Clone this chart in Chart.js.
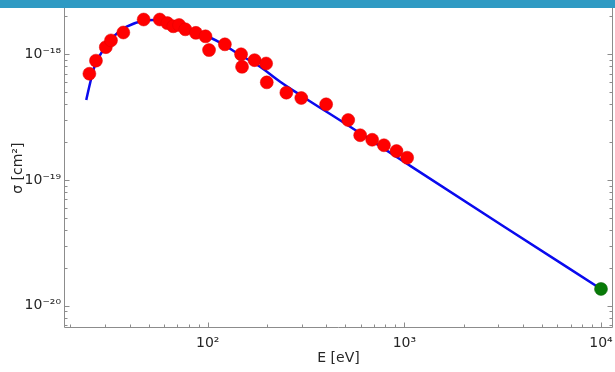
<!DOCTYPE html>
<html>
<head>
<meta charset="utf-8">
<script src="https://cdn.jsdelivr.net/npm/chart.js@4/dist/chart.umd.min.js"></script>
<style>
  body { margin: 0; background: #fff; }
  #wrap { position: relative; width: 615px; height: 372px; }
  #bar { position: absolute; left: 0; top: 0; width: 615px; height: 8px; background: #2f9ac3; }
</style>
</head>
<body>
<div id="wrap">
  <canvas id="crossSection" width="615" height="372"></canvas>
  <div id="bar"></div>
</div>
<script>
// measured cross sections (red)
const energy = [25.0, 27.0, 30.3, 32.2, 37.2, 47.2, 57.0, 62.3, 66.8, 71.5, 76.9, 87.0, 97.4, 101.5,
                122.2, 147.7, 149.4, 173.0, 198.1, 199.6, 251, 299, 400, 518, 596, 686, 787, 912, 1033];
const sigma = [7.0e-19, 8.9e-19, 1.14e-18, 1.29e-18, 1.49e-18, 1.89e-18, 1.89e-18, 1.77e-18, 1.67e-18,
               1.71e-18, 1.58e-18, 1.48e-18, 1.39e-18, 1.08e-18, 1.20e-18, 1.00e-18, 7.95e-19, 8.98e-19,
               8.45e-19, 5.98e-19, 4.95e-19, 4.49e-19, 4.0e-19, 3.0e-19, 2.27e-19, 2.09e-19, 1.89e-19,
               1.70e-19, 1.505e-19];

// extrapolated point (green)
const extraEnergy = [10000];
const extraSigma = [1.36e-20];

// fitted curve (blue)
const fitEnergy = [24.1, 25.2, 26.7, 29.4, 33.1, 38.7, 47.0, 52.9, 61.8, 72.3, 91.4, 115.5, 146,
                   184.5, 233.5, 295, 530, 1000, 3162, 10000];
const fitSigma = [4.33e-19, 5.88e-19, 8.22e-19, 1.08e-18, 1.38e-18, 1.66e-18, 1.85e-18, 1.875e-18,
                  1.81e-18, 1.68e-18, 1.47e-18, 1.24e-18, 9.87e-19, 7.97e-19, 6.05e-19, 4.75e-19,
                  2.65e-19, 1.39e-19, 4.33e-20, 1.36e-20];

// ticks
const xMajor = [100, 1000, 10000];
const xLabels = ['10²', '10³', '10⁴'];
const yMajor = [1e-20, 1e-19, 1e-18];
const yLabels = ['10⁻²⁰', '10⁻¹⁹', '10⁻¹⁸'];

const toPoints = (xs, ys) => xs.map((v, i) => ({ x: v, y: ys[i] }));

function minorTicks(lo, hi) {
    const out = [];
    for (let d = Math.floor(Math.log10(lo)); d <= Math.ceil(Math.log10(hi)); d++) {
        for (let m = 2; m <= 9; m++) {
            const v = m * Math.pow(10, d);
            if (v > lo && v < hi) out.push(v);
        }
    }
    return out;
}

// grey frame (top edge sits under the banner) with inward ticks
const frameTicks = {
    id: 'frameTicks',
    afterDraw(chart) {
        const { ctx, chartArea: a, scales: { x, y } } = chart;
        ctx.save();
        ctx.strokeStyle = '#8c8c8c';
        ctx.lineWidth = 1;
        const seg = (x1, y1, x2, y2) => { ctx.beginPath(); ctx.moveTo(x1, y1); ctx.lineTo(x2, y2); ctx.stroke(); };
        const l = Math.round(a.left) + 0.5, r = Math.round(a.right) - 0.5, b = Math.round(a.bottom) - 0.5;
        seg(l, 0, l, b);
        seg(l, b, r, b);
        seg(r, 0, r, b);
        const xt = (v, len) => {
            const p = Math.round(x.getPixelForValue(v)) + 0.5;
            seg(p, b, p, b - len);
        };
        const yt = (v, len) => {
            const p = Math.round(y.getPixelForValue(v)) + 0.5;
            seg(l, p, l + len, p);
            seg(r, p, r - len, p);
        };
        xMajor.forEach(v => xt(v, 5));
        minorTicks(x.min, x.max).forEach(v => xt(v, 3));
        yMajor.forEach(v => yt(v, 5));
        minorTicks(y.min, y.max).forEach(v => yt(v, 3));
        ctx.restore();
    }
};

const font = { family: 'DejaVu Sans', size: 14 };

new Chart(document.getElementById('crossSection').getContext('2d'), {
    type: 'scatter',
    data: {
        datasets: [
            {
                data: toPoints(energy, sigma),
                backgroundColor: '#ff0000',
                borderColor: '#e00000',
                borderWidth: 0.5,
                pointRadius: 6.5,
                order: 1
            },
            {
                data: toPoints(extraEnergy, extraSigma),
                backgroundColor: '#087a08',
                borderColor: '#066006',
                borderWidth: 0.5,
                pointRadius: 6.5,
                order: 0
            },
            {
                type: 'line',
                data: toPoints(fitEnergy, fitSigma),
                borderColor: '#0a0aee',
                borderWidth: 2.5,
                pointRadius: 0,
                fill: false,
                cubicInterpolationMode: 'monotone',
                order: 2
            }
        ]
    },
    options: {
        responsive: false,
        animation: false,
        devicePixelRatio: 1,
        layout: { autoPadding: false, padding: { left: 0, right: 2, top: 0, bottom: 0 } },
        plugins: { legend: { display: false }, tooltip: { enabled: false } },
        scales: {
            x: {
                type: 'logarithmic',
                min: 18.57,
                max: 11510,
                grid: { display: false, drawTicks: true, tickLength: 7 },
                border: { display: false },
                afterBuildTicks: s => { s.ticks = xMajor.map(v => ({ value: v })); },
                afterFit: s => { s.height = 44; },
                ticks: {
                    autoSkip: false,
                    maxRotation: 0,
                    padding: 0,
                    color: '#262626',
                    font: font,
                    callback: v => xLabels[xMajor.indexOf(v)]
                },
                title: {
                    display: true,
                    text: 'E [eV]',
                    color: '#262626',
                    font: font,
                    padding: { top: 0, bottom: 5 }
                }
            },
            y: {
                type: 'logarithmic',
                min: 6.65e-21,
                max: 2.317e-18,
                grid: { display: false, drawTicks: true, tickLength: 3 },
                border: { display: false },
                afterBuildTicks: s => { s.ticks = yMajor.map(v => ({ value: v })); },
                afterFit: s => { s.width = 64; },
                ticks: {
                    autoSkip: false,
                    padding: 0,
                    color: '#262626',
                    font: font,
                    callback: v => yLabels[yMajor.indexOf(v)]
                },
                title: {
                    display: true,
                    text: 'σ [cm²]',
                    color: '#262626',
                    font: font,
                    padding: { top: 10, bottom: 0 }
                }
            }
        }
    },
    plugins: [frameTicks]
});
</script>
</body>
</html>
